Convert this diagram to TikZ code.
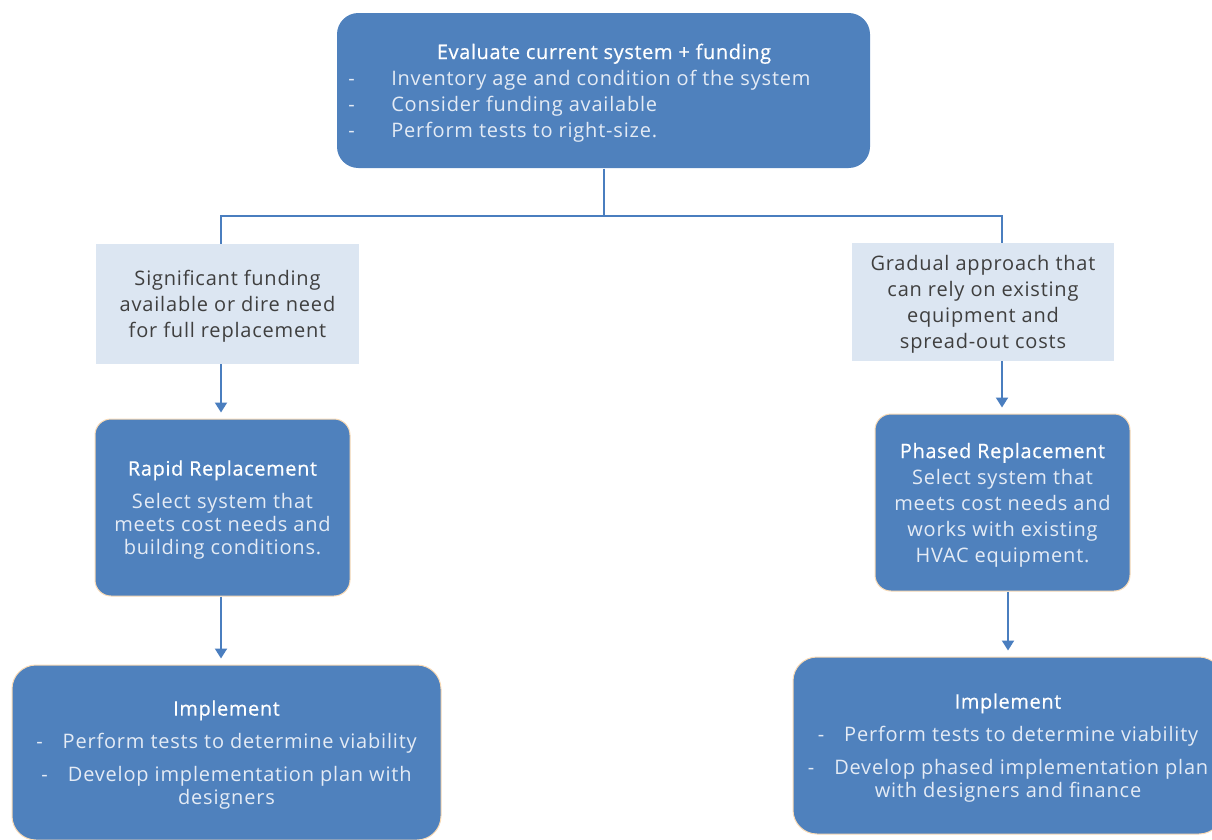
\documentclass[tikz,border=0pt]{standalone}
\usepackage{fontspec}
\setmainfont[LetterSpace=4]{Open Sans}
\newfontfamily\headfont[LetterSpace=3, FakeBold=0.5]{Open Sans}
\usetikzlibrary{arrows.meta, positioning, calc}
\definecolor{boxblue}{HTML}{4F81BD}
\definecolor{paleblue}{HTML}{DCE6F2}
\definecolor{peach}{HTML}{FADBB5}
\definecolor{linkblue}{HTML}{4A7EBF}
\definecolor{greytext}{HTML}{3F3F3F}
\definecolor{softwhite}{HTML}{E4EBF5}
\newcommand{\boxhead}[1]{{\headfont\color{white}#1}}

\begin{document}
\begin{tikzpicture}[x=0.75pt, y=-0.75pt,
    font=\fontsize{15}{19.5}\selectfont,
    bluebox/.style={fill=boxblue, draw=peach, line width=0.75pt, rounded corners=12pt,
        text=softwhite, align=center, inner sep=0pt, text depth=0pt},
    palebox/.style={fill=paleblue, text=greytext, align=center, inner sep=0pt, text depth=0pt},
    line/.style={inner sep=0pt, text=softwhite},
    link/.style={draw=linkblue, line width=1.5pt},
    arrow/.style={link, -{Triangle[width=9pt,length=7.5pt]}, shorten >=4.5pt}]
\pgfmathsetmacro{\px}{0.75}
    \useasboundingbox (0,0) rectangle (1212,839);
    \clip (0,0) rectangle (1212,839);

    % Top box
    \node[bluebox, draw=none, rounded corners=16pt,
        minimum width={533*\px pt}, minimum height={155*\px pt}] (evaluate) at (603.5,90.5) {};
    \node[line, anchor=base] (evaltitle) at (604,59) {\boxhead{Evaluate current system + funding}};
    \foreach \y/\t [count=\i] in {85/Inventory age and condition of the system,
        111/Consider funding available, 137/Perform tests to right-size.}
    {
    \node[line, anchor=base west] (dash\i) at (348,\y) {-};
    \node[line, anchor=base west] (item\i) at (391,\y) {\t};
    }

    % Conditions
    \node[palebox, minimum width={263*\px pt}, minimum height={120*\px pt}] (bigfund) at (227.5,304)
        {Significant funding\\available or dire need\\for full replacement};
    \node[palebox, minimum width={262*\px pt}, minimum height={118*\px pt}] (gradual) at (983,302)
        {Gradual approach that\\can rely on existing\\equipment and\\spread-out costs};

    % Replacement options
    \node[bluebox, font=\fontsize{15}{17.25}\selectfont,
        minimum width={255*\px pt}, minimum height={177*\px pt}] (rapid) at (222.5,507.5)
        {\boxhead{Rapid Replacement}\\[7.5pt]Select system that\\meets cost needs and\\building conditions.};
    \node[bluebox, minimum width={255*\px pt}, minimum height={177*\px pt}] (phased) at (1002.5,502.5)
        {\boxhead{Phased Replacement}\\Select system that\\meets cost needs and\\works with existing\\HVAC equipment.};

    % Implementation
    \node[bluebox, rounded corners=18pt, font=\fontsize{15}{17.25}\selectfont,
        minimum width={429*\px pt}, minimum height={175*\px pt}] (implleft) at (226.5,752.5)
        {\boxhead{Implement}\\[7.5pt]-\quad Perform tests to determine viability\\[7.5pt]
        -\quad Develop implementation plan with\\designers};
    \node[bluebox, rounded corners=18pt, font=\fontsize{15}{17.25}\selectfont,
        minimum width={430*\px pt}, minimum height={177*\px pt}] (implright) at (1008,745.5)
        {\boxhead{Implement}\\[7.5pt]-\quad Perform tests to determine viability\\[7.5pt]
        -\quad Develop phased implementation plan\\with designers and finance};

    % Connectors
    \coordinate (split) at (603.5,216);
    \coordinate (forkL) at (221,216);
    \coordinate (forkR) at (1002,216);
    \coordinate (dropR) at (1008,0);
    \draw[link] (evaluate.south) -- (split);
    \draw[link] (forkL |- bigfund.north) -- (forkL) -- (forkR) -- (forkR |- gradual.north);
    \draw[arrow] (forkL |- bigfund.south) -- (forkL |- rapid.north);
    \draw[arrow] (forkR |- gradual.south) -- (forkR |- phased.north);
    \draw[arrow] (forkL |- rapid.south) -- (forkL |- implleft.north);
    \draw[arrow] (dropR |- phased.south) -- (dropR |- implright.north);

\end{tikzpicture}
\end{document}
